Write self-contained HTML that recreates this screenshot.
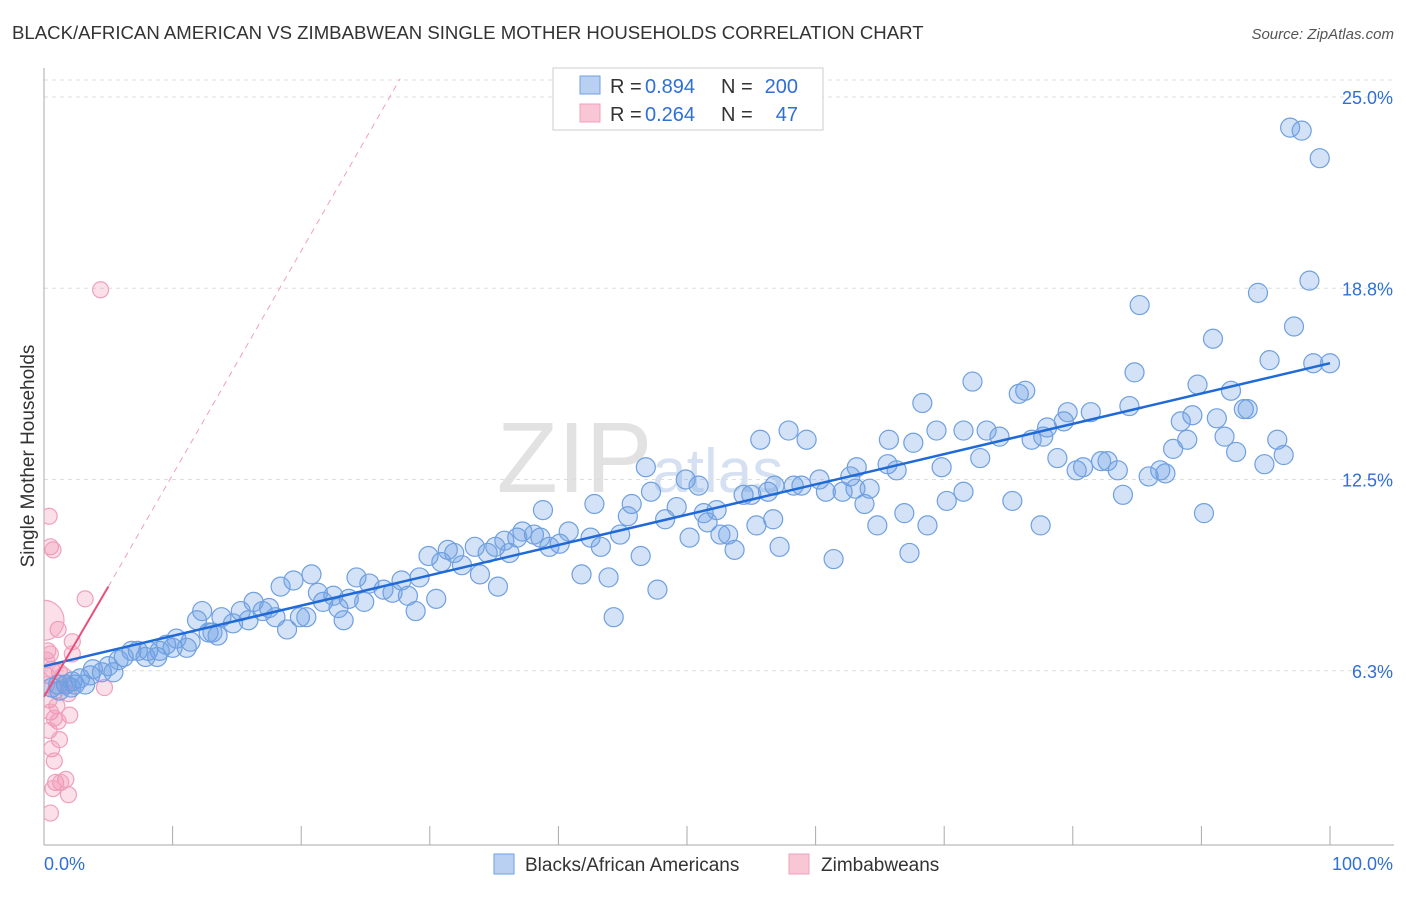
<!DOCTYPE html>
<html><head><meta charset="utf-8"><style>
body{margin:0;background:#fff;font-family:"Liberation Sans",sans-serif;}
svg text{font-family:"Liberation Sans",sans-serif;}
</style></head><body>
<svg width="1406" height="892" viewBox="0 0 1406 892">
<defs><clipPath id="plotclip"><rect x="44" y="60" width="1360" height="785"/></clipPath></defs>
<text x="12" y="39" font-size="18.6" fill="#333">BLACK/AFRICAN AMERICAN VS ZIMBABWEAN SINGLE MOTHER HOUSEHOLDS CORRELATION CHART</text>
<text x="1394" y="39" font-size="15" fill="#555" font-style="italic" text-anchor="end">Source: ZipAtlas.com</text>
<text x="640" y="492" font-size="100" fill="#e2e2e2" text-anchor="middle" font-family="Liberation Serif">ZIP<tspan font-size="62" fill="#d5e1f2" font-family="Liberation Sans">atlas</tspan></text>
<g id="grid"></g>
<g id="axes"></g>
<g id="pts" clip-path="url(#plotclip)"></g>
<g id="lines"></g>
<text transform="translate(34,456) rotate(-90)" font-size="19" fill="#333" text-anchor="middle">Single Mother Households</text>
<g>
<rect x="553" y="68" width="270" height="62" fill="#fff" stroke="#ccc"/>
<rect x="580" y="76" width="20" height="18" fill="#b9d0f2" stroke="#6fa0e0"/>
<rect x="580" y="104" width="20" height="18" fill="#f9c6d6" stroke="#f0a0bc"/>
<text x="610" y="93" font-size="20" fill="#333">R =</text>
<text x="645" y="93" font-size="20" fill="#2f6fd6">0.894</text>
<text x="721" y="93" font-size="20" fill="#333">N =</text>
<text x="798" y="93" font-size="20" fill="#2f6fd6" text-anchor="end">200</text>
<text x="610" y="121" font-size="20" fill="#333">R =</text>
<text x="645" y="121" font-size="20" fill="#2f6fd6">0.264</text>
<text x="721" y="121" font-size="20" fill="#333">N =</text>
<text x="798" y="121" font-size="20" fill="#2f6fd6" text-anchor="end">47</text>
</g>
<g>
<rect x="494" y="854" width="20" height="20" fill="#b9d0f2" stroke="#6fa0e0"/>
<text x="525" y="871" font-size="19" fill="#333">Blacks/African Americans</text>
<rect x="789" y="854" width="20" height="20" fill="#f9c6d6" stroke="#f0a0bc"/>
<text x="821" y="871" font-size="19" fill="#333">Zimbabweans</text>
</g>
</svg>
<script>
const NS="http://www.w3.org/2000/svg";
const yTicks=[6.3,12.5,18.8,25.0];
const yTickVals=[6.25,12.5,18.75,25];
const xLabels=["0.0%","100.0%"];
const blueX=[96.9,97.8,99.2,98.4,94.4,85.2,97.2,90.9,95.3,98.7,100,84.8,72.2,89.7,76.3,75.8,92.3,68.3,84.4,93.3,93.6,79.6,81.4,89.3,91.2,88.4,79.3,57.9,78.0,73.3,69.4,71.5,77.7,74.3,65.7,55.7,59.3,67.6,76.8,91.8,95.9,88.9,87.8,72.8,92.7,96.4,78.8,82.7,82.2,80.3,80.8,94.9,83.5,85.9,86.8,87.2,65.6,66.3,63.2,69.8,46.8,49.9,62.7,60.3,63.1,64.2,56.8,58.9,58.3,60.8,62.1,50.9,54.4,55.0,56.3,47.2,71.5,70.2,83.9,63.8,75.3,42.8,45.7,38.8,49.2,51.3,52.3,66.9,90.2,45.4,48.3,51.6,56.7,64.8,68.7,77.5,37.2,55.4,38.6,40.8,38.1,44.8,50.2,52.6,53.2,36.8,39.3,40.1,42.5,43.3,35.8,53.7,57.2,67.3,61.4,46.4,29.9,31.4,31.9,33.5,34.5,35.1,36.2,30.9,32.5,33.9,41.8,43.9,35.3,47.7,44.3,29.2,27.8,24.3,25.3,26.4,27.1,28.3,30.5,28.9,20.8,19.4,18.4,21.3,22.5,23.7,24.9,21.7,22.9,23.3,16.3,17.5,17.0,15.3,13.8,14.7,15.9,18.0,19.9,20.4,18.9,12.3,11.9,13.1,13.5,12.8,10.3,11.4,9.5,10.0,11.1,9.0,8.1,7.3,6.8,7.9,8.8,6.2,5.8,5.0,3.8,4.5,5.4,3.6,2.8,2.2,1.7,1.1,0.6,1.2,2.1,2.4,3.2];
const blueY=[24.0,23.9,23.0,19.0,18.6,18.2,17.5,17.1,16.4,16.3,16.3,16.0,15.7,15.6,15.4,15.3,15.4,15.0,14.9,14.8,14.8,14.7,14.7,14.6,14.5,14.4,14.4,14.1,14.2,14.1,14.1,14.1,13.9,13.9,13.8,13.8,13.8,13.7,13.8,13.9,13.8,13.8,13.5,13.2,13.4,13.3,13.2,13.1,13.1,12.8,12.9,13.0,12.8,12.6,12.8,12.7,13.0,12.8,12.9,12.9,12.9,12.5,12.6,12.5,12.2,12.2,12.3,12.3,12.3,12.1,12.1,12.3,12.0,12.0,12.1,12.1,12.1,11.8,12.0,11.7,11.8,11.7,11.7,11.5,11.6,11.4,11.5,11.4,11.4,11.3,11.2,11.1,11.2,11.0,11.0,11.0,10.8,11.0,10.6,10.8,10.7,10.7,10.6,10.7,10.7,10.6,10.3,10.4,10.6,10.3,10.5,10.2,10.3,10.1,9.9,10.0,10.0,10.2,10.1,10.3,10.1,10.3,10.1,9.8,9.7,9.4,9.4,9.3,9.0,8.9,8.0,9.3,9.2,9.3,9.1,8.9,8.8,8.7,8.6,8.2,9.4,9.2,9.0,8.8,8.7,8.6,8.5,8.5,8.3,7.9,8.5,8.3,8.2,8.2,8.0,7.8,7.9,8.0,8.0,8.0,7.6,8.2,7.9,7.5,7.4,7.5,7.3,7.2,7.1,7.0,7.0,6.9,6.9,6.9,6.9,6.7,6.7,6.7,6.6,6.4,6.3,6.2,6.2,6.1,6.0,5.9,5.8,5.8,5.7,5.6,5.7,5.8,5.8];
const pinkX=[4.4,0.4,0.5,0.7,3.2,1.1,2.2,0,2.2,0.3,0.5,0.2,0.6,1.2,0.2,0.2,0.9,1.9,4.7,0.4,1.0,0.5,2.0,0.8,1.1,0.4,1.2,0.6,0.8,1.7,0.9,1.3,0.7,1.9,0.5,1.5,1.6];
const pinkY=[18.7,11.3,10.3,10.2,8.6,7.6,7.2,7.9,6.8,6.9,6.8,6.6,6.3,6.2,6.1,5.8,5.6,5.5,5.7,5.3,5.1,4.9,4.8,4.7,4.6,4.3,4.0,3.7,3.3,2.7,2.6,2.6,2.4,2.2,1.6,6.1,5.8];
const blueLine=[[0,6.4],[100,16.3]];
const pinkLine=[[0,5.4],[5,9.0]];
const pinkDash=[[5,9.0],[27.7,25.6]];
const X=v=>44+v*12.86, Y=v=>862-v*30.6;
function mk(tag,attrs,parent){const e=document.createElementNS(NS,tag);for(const k in attrs)e.setAttribute(k,attrs[k]);document.getElementById(parent).appendChild(e);return e;}
yTickVals.forEach((v,i)=>{
 const g=mk('line',{x1:44,x2:1394,y1:Y(v),y2:Y(v),stroke:'#ddd','stroke-dasharray':'4,4'},'grid');
 
 
 const t=mk('text',{x:1393,y:Y(v)+7,'font-size':18,fill:'#2f6fd6','text-anchor':'end'},'grid');
 t.textContent=yTicks[i].toFixed(1)+'%';
 
 
});
mk('line',{x1:44,x2:1394,y1:80,y2:80,stroke:'#ddd','stroke-dasharray':'4,4'},'grid');
const ax=mk('line',{x1:44,x2:44,y1:68,y2:845,stroke:'#aaa'},'axes');


const bx=mk('line',{x1:44,x2:1394,y1:845,y2:845,stroke:'#aaa'},'axes');


for(let i=1;i<=10;i++){const tk=mk('line',{x1:X(i*10),x2:X(i*10),y1:826,y2:845,stroke:'#aaa'},'axes');
 
 }
[[0,'start'],[100,'end']].forEach((p,i)=>{const t=mk('text',{x:i?1393:44,y:870,'font-size':18,fill:'#2f6fd6','text-anchor':p[1]},'axes');t.textContent=xLabels[i];
 
 });
pinkX.forEach((x,i)=>{const c=mk('circle',{cx:X(x),cy:Y(pinkY[i]),r:(x===0?20:8),fill:'rgba(240,140,175,0.28)',stroke:'#f0a0bc','stroke-width':1.2},'pts');
 
 });
blueX.forEach((x,i)=>{const c=mk('circle',{cx:X(x),cy:Y(blueY[i]),r:9.5,fill:'rgba(110,160,230,0.3)',stroke:'#6fa0e0','stroke-width':1.2},'pts');
 
 });
const l1=mk('line',{x1:X(blueLine[0][0]),y1:Y(blueLine[0][1]),x2:X(blueLine[1][0]),y2:Y(blueLine[1][1]),stroke:'#1f6ad6','stroke-width':2.5},'lines');


const l2=mk('line',{x1:X(pinkLine[0][0]),y1:Y(pinkLine[0][1]),x2:X(pinkLine[1][0]),y2:Y(pinkLine[1][1]),stroke:'#e8507a','stroke-width':2},'lines');


const l3=mk('line',{x1:X(pinkDash[0][0]),y1:Y(pinkDash[0][1]),x2:X(pinkDash[1][0]),y2:Y(pinkDash[1][1]),stroke:'#f0a0bc','stroke-width':1,'stroke-dasharray':'6,5'},'lines');


</script>
</body></html>
